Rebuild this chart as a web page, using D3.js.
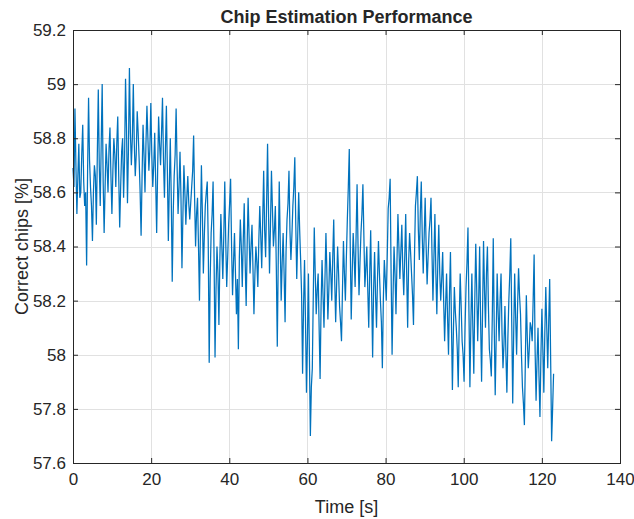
<!DOCTYPE html>
<html><head><meta charset="utf-8">
<script src="https://cdn.jsdelivr.net/npm/d3@7"></script>
<style>
body{margin:0;background:#fff}
svg{display:block}
text{font-family:"Liberation Sans",Arial,Helvetica,sans-serif;fill:#262626}
</style>
</head><body><svg id="c" width="634" height="519"></svg>
<script>
// ---- data ----
const xTicks = [0, 20, 40, 60, 80, 100, 120, 140];
const yTicks = [57.6, 57.8, 58, 58.2, 58.4, 58.6, 58.8, 59, 59.2];
const timeStart = 0, timeEnd = 123; // seconds, samples evenly spaced
const chipsPct = [
58.69,58.62,58.91,58.70,58.52,58.66,58.78,58.58,58.60,58.74,58.85,58.64,58.55,58.60,58.33,58.68,58.95,58.72,58.62,58.55,
58.42,58.60,58.70,58.66,58.48,58.74,58.98,58.70,58.55,58.78,59.00,58.64,58.45,58.62,58.78,58.70,58.60,58.76,58.84,58.66,
58.52,58.68,58.80,58.74,58.62,58.78,58.88,58.66,58.47,58.62,58.75,58.80,58.58,58.72,59.02,58.84,58.56,58.76,59.06,58.82,
58.70,58.80,59.00,58.78,58.66,58.74,58.90,58.82,58.72,58.60,58.44,58.66,58.85,58.74,58.60,58.78,58.92,58.80,58.68,58.76,
58.93,58.74,58.62,58.70,58.82,58.64,58.45,58.68,58.88,58.78,58.70,58.82,58.95,58.72,58.58,58.76,58.92,58.68,58.42,58.62,
58.80,58.58,58.27,58.52,58.66,58.74,58.91,58.70,58.52,58.62,58.75,58.58,58.32,58.52,58.70,58.60,58.48,58.58,58.66,58.56,
58.50,58.56,58.62,58.68,58.81,58.58,58.40,58.52,58.58,58.40,58.20,58.46,58.70,58.52,58.30,58.44,58.55,58.60,58.64,58.42,
57.97,58.28,58.45,58.52,58.64,58.36,57.99,58.24,58.40,58.30,58.11,58.36,58.52,58.40,58.28,58.44,58.64,58.42,58.25,58.36,
58.48,58.56,58.65,58.40,58.22,58.34,58.45,58.30,58.15,58.28,58.02,58.36,58.50,58.40,58.25,58.42,58.56,58.34,58.18,58.40,
58.58,58.44,58.30,58.40,58.48,58.32,58.15,58.30,58.40,58.34,58.25,58.42,58.55,58.44,58.32,58.50,58.68,58.46,58.36,58.56,
58.78,58.52,58.30,58.48,58.68,58.54,58.40,58.46,58.55,58.32,58.03,58.36,58.64,58.42,58.20,58.34,58.45,58.30,58.12,58.38,
58.50,58.56,58.68,58.46,58.35,58.44,58.55,58.62,58.73,58.48,58.28,58.44,58.60,58.46,58.35,58.22,57.93,58.18,58.35,58.12,
57.86,58.06,58.30,58.00,57.70,57.88,57.95,58.22,58.47,58.30,58.15,58.24,58.30,58.10,57.91,58.18,58.35,58.22,58.10,58.28,
58.45,58.30,58.13,58.24,58.38,58.30,58.20,58.36,58.50,58.28,58.12,58.26,58.40,58.30,58.18,58.12,58.05,58.24,58.42,58.30,
58.20,58.36,58.50,58.62,58.76,58.40,58.13,58.30,58.45,58.36,58.25,58.44,58.63,58.40,58.22,58.34,58.45,58.52,58.63,58.44,
58.25,58.32,58.40,58.24,58.10,58.30,58.46,58.22,57.99,58.24,58.38,58.22,58.10,58.28,58.42,58.30,58.20,58.12,57.95,58.20,
58.35,58.28,58.20,58.36,58.54,58.58,58.65,58.30,58.00,58.22,58.40,58.30,58.15,58.34,58.52,58.40,58.28,58.38,58.48,58.32,
58.22,58.36,58.52,58.30,58.10,58.34,58.45,58.38,58.30,58.22,58.11,58.36,58.55,58.60,58.66,58.46,58.35,58.52,58.64,58.44,
58.30,58.44,58.58,58.40,58.26,58.36,58.45,58.50,58.58,58.38,58.20,58.36,58.52,58.30,58.15,58.34,58.48,58.30,58.20,58.28,
58.38,58.20,58.05,58.18,58.30,58.14,58.00,58.22,58.38,58.12,57.87,58.08,58.25,58.16,58.10,58.02,57.88,58.12,58.30,58.18,
58.05,58.00,57.90,58.10,58.25,58.34,58.47,58.16,57.88,58.12,58.30,58.10,57.93,58.20,58.41,58.24,58.05,58.20,58.40,58.12,
57.90,58.16,58.42,58.24,58.10,58.30,58.40,58.18,58.02,57.98,57.92,58.14,58.43,58.10,57.85,58.06,58.30,58.16,58.05,58.20,
58.30,58.08,57.95,58.04,58.18,58.00,57.86,58.06,58.20,58.30,58.43,58.12,57.82,58.08,58.30,58.14,58.00,58.18,58.32,58.22,
58.15,58.00,57.88,57.82,57.74,57.98,58.22,58.06,57.95,58.02,58.12,58.10,58.05,58.20,58.37,58.02,57.83,57.98,58.10,57.92,
57.77,58.00,58.17,58.02,57.86,58.08,58.25,58.10,57.95,58.12,58.28,57.98,57.68,57.80,57.93
];
const titleText = "Chip Estimation Performance";
const xLabelText = "Time [s]";
const yLabelText = "Correct chips [%]";

// ---- layout ----
const L = 73, R = 620, T = 30, B = 463;
const svg = d3.select("#c");

const x = d3.scaleLinear().domain([0, 140]).range([L, R]);
const y = d3.scaleLinear().domain([57.6, 59.2]).range([B, T]);
const step = (timeEnd - timeStart) / (chipsPct.length - 1);
const series = chipsPct.map((v, i) => ({t: timeStart + i * step, v}));

// grid
const grid = svg.append("g").attr("shape-rendering", "crispEdges");
grid.selectAll("line.gx").data(xTicks).join("line")
  .attr("x1", d => Math.round(x(d)) + 0.5).attr("x2", d => Math.round(x(d)) + 0.5)
  .attr("y1", T).attr("y2", B).attr("stroke", "#e1e1e1");
grid.selectAll("line.gy").data(yTicks).join("line")
  .attr("y1", d => Math.round(y(d)) + 0.5).attr("y2", d => Math.round(y(d)) + 0.5)
  .attr("x1", L).attr("x2", R).attr("stroke", "#e1e1e1");

// data line
svg.append("path").datum(series)
  .attr("fill", "none").attr("stroke", "#0072BD").attr("stroke-width", 1.25)
  .attr("stroke-linejoin", "miter").attr("stroke-miterlimit", 3)
  .attr("d", d3.line().x(d => x(d.t)).y(d => y(d.v)));

// axes
const fmtY = d => String(+d.toFixed(1));
const styleAxis = g => {
  g.select(".domain").remove();
  g.selectAll(".tick line").attr("stroke", "#262626");
  g.selectAll(".tick text").attr("fill", "#262626").style("font-size", "17px")
    .style("font-family", '"Liberation Sans",Arial,Helvetica,sans-serif');
};
svg.append("g").attr("transform", `translate(0,${B})`)
  .call(d3.axisBottom(x).tickValues(xTicks).tickSizeInner(-5).tickSizeOuter(0).tickPadding(10))
  .call(styleAxis);
svg.append("g").attr("transform", `translate(0,${T})`)
  .call(d3.axisTop(x).tickValues(xTicks).tickSizeInner(-5).tickSizeOuter(0).tickFormat(""))
  .call(styleAxis);
svg.append("g").attr("transform", `translate(${L},0)`)
  .call(d3.axisLeft(y).tickValues(yTicks).tickSizeInner(-5).tickSizeOuter(0).tickPadding(7).tickFormat(fmtY))
  .call(styleAxis);
svg.append("g").attr("transform", `translate(${R},0)`)
  .call(d3.axisRight(y).tickValues(yTicks).tickSizeInner(-5).tickSizeOuter(0).tickFormat(""))
  .call(styleAxis);

// box
svg.append("rect").attr("x", L + 0.5).attr("y", T + 0.5)
  .attr("width", R - L).attr("height", B - T)
  .attr("fill", "none").attr("stroke", "#262626").attr("stroke-width", 1)
  .attr("shape-rendering", "crispEdges");

// labels
svg.append("text").attr("x", (L + R) / 2).attr("y", 23).attr("text-anchor", "middle")
  .style("font-size", "18px").style("font-weight", "bold").text(titleText);
svg.append("text").attr("x", (L + R) / 2).attr("y", 513).attr("text-anchor", "middle")
  .style("font-size", "18px").text(xLabelText);
svg.append("text").attr("transform", `translate(28,${(T + B) / 2}) rotate(-90)`)
  .attr("text-anchor", "middle").style("font-size", "18px").text(yLabelText);
</script>
</body></html>
